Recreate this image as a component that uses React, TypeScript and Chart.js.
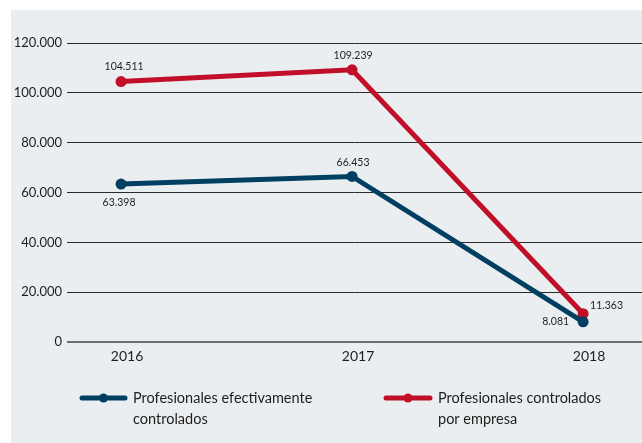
import React, { useEffect, useRef } from "react";
import { Chart, registerables } from "chart.js";

Chart.register(...registerables);

// ---- data ----
const years = [2016, 2017, 2018];
const efectivamenteControlados = [63398, 66453, 8081];
const controladosPorEmpresa = [104511, 109239, 11363];
const yTickValues = [0, 20000, 40000, 60000, 80000, 100000, 120000];
const seriesLabels = [
  "Profesionales efectivamente controlados",
  "Profesionales controlados por empresa",
];
const legendLines = [
  ["Profesionales efectivamente", "controlados"],
  ["Profesionales controlados", "por empresa"],
];

// ---- style ----
const BLUE = "#003f62";
const RED = "#c10f2a";
const PANEL = "#ebeef0";
const FONT = "Lato, 'Open Sans', sans-serif";
const TEXT = "#1e1e1e";

// value label placement per dataset/point: [align, dx, dy]
const labelPlacement: [CanvasTextAlign, number, number][][] = [
  [["center", -2, 19], ["center", 1, -14], ["right", -14, 0]],
  [["center", 3, -15], ["center", 1, -14], ["left", 7, -8]],
];

const fmt = (n: number) => String(n).replace(/\B(?=(\d{3})+(?!\d))/g, ".");

const panelPlugin = {
  id: "panel",
  beforeDraw(chart: any) {
    const ctx = chart.ctx;
    ctx.save();
    ctx.fillStyle = "#ffffff";
    ctx.fillRect(0, 0, chart.width, chart.height);
    ctx.fillStyle = PANEL;
    ctx.fillRect(11, 10, chart.width - 11, chart.height - 10);
    ctx.restore();
  },
};

const valueLabelPlugin = {
  id: "valueLabels",
  afterDatasetsDraw(chart: any) {
    const ctx = chart.ctx;
    ctx.save();
    ctx.font = `10.5px ${FONT}`;
    ctx.fillStyle = TEXT;
    ctx.textBaseline = "middle";
    chart.data.datasets.forEach((ds: any, i: number) => {
      const meta = chart.getDatasetMeta(i);
      meta.data.forEach((pt: any, j: number) => {
        const [align, dx, dy] = labelPlacement[i][j];
        ctx.textAlign = align;
        ctx.fillText(fmt(ds.data[j].y), pt.x + dx, pt.y + dy);
      });
    });
    ctx.restore();
  },
};

const legendPlugin = {
  id: "customLegend",
  afterDraw(chart: any) {
    const ctx = chart.ctx;
    const items = [
      { x0: 82, x1: 125, tx: 133, color: BLUE },
      { x0: 386, x1: 430, tx: 438, color: RED },
    ];
    ctx.save();
    items.forEach((it, i) => {
      const y = 398;
      ctx.strokeStyle = it.color;
      ctx.lineWidth = 5;
      ctx.lineCap = "round";
      ctx.beginPath();
      ctx.moveTo(it.x0, y);
      ctx.lineTo(it.x1, y);
      ctx.stroke();
      ctx.fillStyle = it.color;
      ctx.beginPath();
      ctx.arc((it.x0 + it.x1) / 2, y, 4.5, 0, Math.PI * 2);
      ctx.fill();
      ctx.fillStyle = TEXT;
      ctx.font = `14.5px ${FONT}`;
      ctx.textAlign = "left";
      ctx.textBaseline = "middle";
      legendLines[i].forEach((line, k) => {
        ctx.fillText(line, it.tx, y + k * 21);
      });
    });
    ctx.restore();
  },
};

export default function App() {
  const ref = useRef<HTMLCanvasElement | null>(null);

  useEffect(() => {
    if (!ref.current) return;
    const mk = (vals: number[]) => years.map((y, i) => ({ x: y, y: vals[i] }));
    const chart = new Chart(ref.current, {
      type: "line",
      data: {
        datasets: [
          {
            label: seriesLabels[0],
            data: mk(efectivamenteControlados),
            borderColor: BLUE,
            backgroundColor: BLUE,
            borderWidth: 5,
            pointRadius: 5.5,
            pointBorderWidth: 0,
            tension: 0,
          },
          {
            label: seriesLabels[1],
            data: mk(controladosPorEmpresa),
            borderColor: RED,
            backgroundColor: RED,
            borderWidth: 5,
            pointRadius: 5.5,
            pointBorderWidth: 0,
            tension: 0,
          },
        ],
      },
      options: {
        responsive: false,
        animation: false,
        layout: { autoPadding: false, padding: { top: 43, left: 0, right: 0, bottom: 0 } },
        plugins: {
          legend: { display: false },
          tooltip: { enabled: false },
        },
        scales: {
          x: {
            type: "linear",
            min: 2015.766,
            max: 2018.255,
            afterBuildTicks: (s: any) => {
              s.ticks = years.map((v) => ({ value: v }));
            },
            afterFit: (s: any) => {
              s.height = 101;
              s.paddingLeft = 0;
              s.paddingRight = 0;
            },
            grid: { display: false, drawTicks: false },
            border: { display: false },
            ticks: {
              padding: 6,
              labelOffset: 6,
              color: TEXT,
              font: { family: FONT, size: 14 },
              callback: (v: any) => String(v),
              maxRotation: 0,
            },
          },
          y: {
            min: 0,
            max: 120000,
            afterBuildTicks: (s: any) => {
              s.ticks = yTickValues.map((v) => ({ value: v }));
            },
            afterFit: (s: any) => {
              s.width = 67;
            },
            grid: {
              drawTicks: false,
              color: (c: any) => (c.tick && c.tick.value === 0 ? "#6e6e6e" : "#2a2a2a"),
              lineWidth: (c: any) => (c.tick && c.tick.value === 0 ? 2 : 1),
            },
            border: { display: false },
            ticks: {
              padding: 5,
              color: TEXT,
              font: { family: FONT, size: 13 },
              callback: (v: any) => fmt(Number(v)),
            },
          },
        },
      },
      plugins: [panelPlugin, valueLabelPlugin, legendPlugin],
    });
    return () => chart.destroy();
  }, []);

  return (
    <div style={{ position: "fixed", left: 0, top: 0, width: 642, height: 443 }}>
      <canvas ref={ref} width={642} height={443} style={{ display: "block" }} />
    </div>
  );
}
